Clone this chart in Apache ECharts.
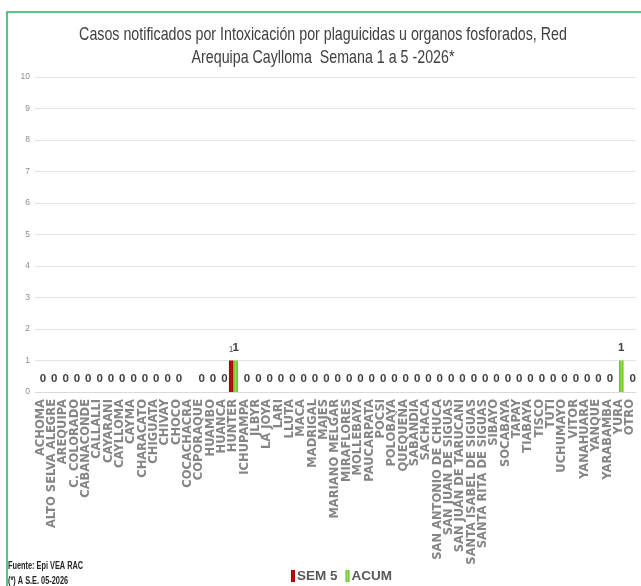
<!DOCTYPE html>
<html><head><meta charset="utf-8">
<script src="https://cdn.jsdelivr.net/npm/echarts@6/dist/echarts.min.js"></script>
<style>html,body{margin:0;padding:0;background:#fff}#c{width:641px;height:586px}</style>
</head><body><div id="c"></div>
<script>
const categories = ["ACHOMA","ALTO SELVA ALEGRE","AREQUIPA","C. COLORADO","CABANACONDE","CALLALLI","CAYARANI","CAYLLOMA","CAYMA","CHARACATO",
"CHIGUATA","CHIVAY","CHOCO","COCACHACRA","COPORAQUE","HUAMBO","HUANCA","HUNTER","ICHUPAMPA","JLBYR",
"LA JOYA","LARI","LLUTA","MACA","MADRIGAL","MAJES","MARIANO MELGAR","MIRAFLORES","MOLLEBAYA","PAUCARPATA",
"POCSI","POLOBAYA","QUEQUEÑA","SABANDIA","SACHACA","SAN ANTONIO DE CHUCA","SAN JUAN DE SIGUAS","SAN JUAN DE TARUCANI","SANTA ISABEL DE SIGUAS","SANTA RITA DE SIGUAS",
"SIBAYO","SOCABAYA","TAPAY","TIABAYA","TISCO","TUTI","UCHUMAYO","VITOR","YANAHUARA","YANQUE",
"YARABAMBA","YURA","OTRO"];
const sem5 = [null,null,null,null,null,null,null,null,null,null,
null,null,null,null,null,null,null,1,null,null,
null,null,null,null,null,null,null,null,null,null,
null,null,null,null,null,null,null,null,null,null,
null,null,null,null,null,null,null,null,null,null,
null,null,null];
const acum = [0,0,0,0,0,0,0,0,0,0,
0,0,0,null,0,0,0,1,0,0,
0,0,0,0,0,0,0,0,0,0,
0,0,0,0,0,0,0,0,0,0,
0,0,0,0,0,0,0,0,0,0,
0,1,0];
const yTicks = {min:0, max:10, interval:1};
const titleLines = "Casos notificados por Intoxicación por plaguicidas u organos fosforados, Red\nArequipa Caylloma  Semana 1 a 5 -2026*";
const notes = ["Fuente: Epi VEA RAC","(*) A S.E. 05-2026"];

const SANS = '"Liberation Sans", Arial, sans-serif';
const chart = echarts.init(document.getElementById('c'), null, {renderer:'canvas'});
chart.setOption({
  animation:false,
  backgroundColor:'#fff',
  legend:{
    data:['SEM 5','ACUM'], left:286, top:564,
    icon:'rect', itemWidth:4, itemHeight:12, itemGap:8,
    textStyle:{fontFamily:SANS, fontSize:13.5, fontWeight:'bold', color:'#595959', padding:[0,0,0,-3]}
  },
  grid:{left:35, right:5, top:77, height:315, containLabel:false},
  xAxis:{
    type:'category', data:categories,
    axisLine:{show:true, lineStyle:{color:'#d9d9d9'}},
    axisTick:{show:false},
    axisLabel:{interval:0, rotate:90, margin:7, fontFamily:'"DejaVu Sans", sans-serif', fontWeight:'bold', fontSize:11.5, color:'#858585'}
  },
  yAxis:{
    type:'value', min:yTicks.min, max:yTicks.max, interval:yTicks.interval,
    axisLine:{show:false}, axisTick:{show:false},
    splitLine:{lineStyle:{color:'#e3e3e3'}},
    axisLabel:{fontFamily:SANS, fontSize:8.5, color:'#8c8c8c', margin:5}
  },
  series:[
    {name:'SEM 5', type:'bar', data:sem5, barWidth:4.5, barGap:'0%',
     itemStyle:{color:new echarts.graphic.LinearGradient(0,0,1,0,[{offset:0,color:'#8e0000'},{offset:0.5,color:'#d40a0a'},{offset:1,color:'#8e0000'}])},
     label:{show:true, position:'top', distance:6, fontFamily:SANS, fontSize:8.5, color:'#595959'}},
    {name:'ACUM', type:'bar', data:acum, barWidth:4.5, barGap:'0%',
     itemStyle:{color:new echarts.graphic.LinearGradient(0,0,1,0,[{offset:0,color:'#5fb52a'},{offset:0.5,color:'#95e04f'},{offset:1,color:'#5fb52a'}])},
     label:{show:true, position:'top', distance:7, fontFamily:SANS, fontSize:11.5, fontWeight:'bold', color:'#404040'}}
  ],
  graphic:[
    {type:'rect', shape:{x:7, y:12, width:660, height:620}, style:{fill:'none', stroke:'#1fb55a', lineWidth:1.5}, silent:true},
    {type:'text', x:323, y:24, scaleX:0.77, scaleY:1,
     style:{text:titleLines, textAlign:'center', fontFamily:SANS, fontSize:18.5, lineHeight:22.5, fill:'#404040'}},
    {type:'text', x:8, y:561, scaleX:0.7,
     style:{text:notes[0], fontFamily:SANS, fontSize:10.5, fontWeight:'bold', fill:'#262626'}},
    {type:'text', x:8, y:576, scaleX:0.7,
     style:{text:notes[1], fontFamily:SANS, fontSize:10.5, fontWeight:'bold', fill:'#262626'}}
  ]
});
</script></body></html>
